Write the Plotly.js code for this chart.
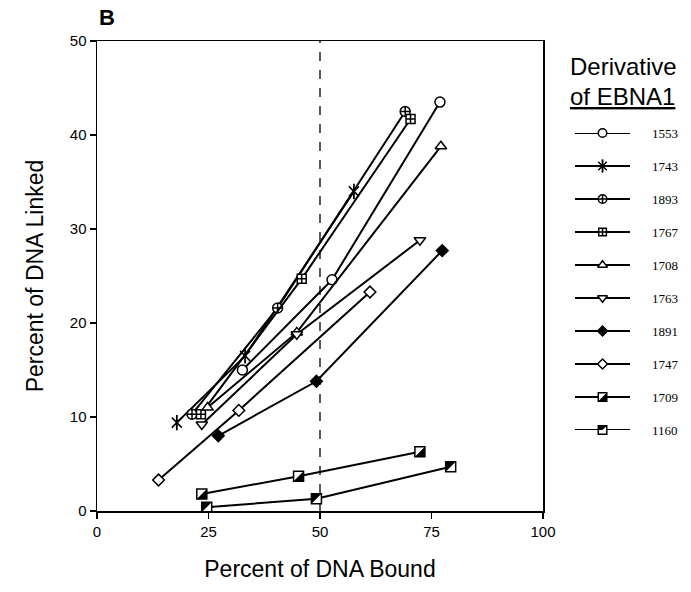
<!DOCTYPE html>
<html>
<head>
<meta charset="utf-8">
<script src="https://cdn.plot.ly/plotly-3.0.1.min.js"></script>
<style>html,body{margin:0;padding:0;background:#fff;}#chart{width:691px;height:592px;}</style>
</head>
<body>
<div id="chart"></div>
<script>
// ---- data ----
var seriesNames = ['1553','1743','1893','1767','1708','1763','1891','1747','1709','1160'];
var x1553 = [32.6, 52.7, 76.9];  var y1553 = [15.0, 24.6, 43.5];
var x1743 = [17.9, 33.2, 57.6];  var y1743 = [9.4, 16.5, 34.0];
var x1893 = [21.3, 40.5, 69.1];  var y1893 = [10.3, 21.6, 42.5];
var x1767 = [23.3, 45.9, 70.3];  var y1767 = [10.3, 24.7, 41.7];
var x1708 = [24.8, 44.8, 77.1];  var y1708 = [11.0, 19.0, 38.8];
var x1763 = [23.5, 44.8, 72.4];  var y1763 = [9.2, 18.8, 28.8];
var x1891 = [27.2, 49.2, 77.4];  var y1891 = [8.0, 13.8, 27.7];
var x1747 = [13.8, 31.8, 61.2];  var y1747 = [3.3, 10.7, 23.3];
var x1709 = [23.5, 45.2, 72.4];  var y1709 = [1.8, 3.7, 6.3];
var x1160 = [24.6, 49.2, 79.3];  var y1160 = [0.4, 1.3, 4.7];
var xTicks = [0, 25, 50, 75, 100];
var yTicks = [0, 10, 20, 30, 40, 50];
var refLineX = 50;

var xs = [x1553,x1743,x1893,x1767,x1708,x1763,x1891,x1747,x1709,x1160];
var ys = [y1553,y1743,y1893,y1767,y1708,y1763,y1891,y1747,y1709,y1160];

// ---- styles ----
var W = '#ffffff', K = '#000000';
var styles = [
  {symbol:'circle', fill:W, size:10},
  {symbol:'x-thin-open', fill:K, size:10, extra:'line-ns-open'},
  {symbol:'circle-cross', fill:W, size:10},
  {symbol:'square-cross', fill:W, size:9},
  {symbol:'triangle-up', fill:W, size:10},
  {symbol:'triangle-down', fill:W, size:10},
  {symbol:'diamond', fill:K, size:9},
  {symbol:'diamond', fill:W, size:9},
  {symbol:'square', fill:W, size:10, half:'lr'},
  {symbol:'square', fill:W, size:10, half:'ul'}
];

var traces = [];
var shapes = [];
function halfPath(kind, r){
  if(kind==='lr') return 'M'+(-r)+','+(-r)+' L'+r+','+(-r)+' L'+r+','+r+' Z';
  return 'M'+(-r)+','+r+' L'+r+','+r+' L'+(-r)+','+(-r)+' Z';
}
function addMarkers(x, y, st, xa, ya, showLine, scale){
  var sz = st.size*scale;
  traces.push({
    x:x, y:y, xaxis:xa, yaxis:ya, type:'scatter',
    mode: showLine ? 'lines+markers' : 'markers',
    line:{color:K, width:2},
    marker:{symbol:st.symbol, size:sz, color:st.fill, line:{color:K, width:1.5}},
    cliponaxis:false, showlegend:false, hoverinfo:'skip'
  });
  if(st.extra){
    traces.push({
      x:x, y:y, xaxis:xa, yaxis:ya, type:'scatter', mode:'markers',
      marker:{symbol:st.extra, size:sz+1, color:K, line:{color:K, width:1.8}},
      cliponaxis:false, showlegend:false, hoverinfo:'skip'
    });
  }
  if(st.half){
    for(var k=0;k<x.length;k++){
      shapes.push({type:'path', xref:xa, yref:ya, xsizemode:'pixel', ysizemode:'pixel',
        xanchor:x[k], yanchor:y[k], path:halfPath(st.half, sz/2),
        fillcolor:K, line:{width:0}, layer:'above'});
    }
  }
}

// main series
for(var i=0;i<seriesNames.length;i++){
  addMarkers(xs[i], ys[i], styles[i], 'x', 'y', true, 1);
}

// legend built on a second pair of axes
var annotations = [];
for(var i=0;i<seriesNames.length;i++){
  traces.push({x:[0,1], y:[i,i], xaxis:'x2', yaxis:'y2', type:'scatter', mode:'lines',
    line:{color:K, width:2}, showlegend:false, hoverinfo:'skip', cliponaxis:false});
  addMarkers([0.5],[i], styles[i], 'x2', 'y2', false, 0.85);
  annotations.push({xref:'paper', yref:'y2', x:0.9325, y:i, xanchor:'left', yanchor:'middle',
    text:seriesNames[i], showarrow:false,
    font:{family:'Liberation Serif, Times New Roman, serif', size:13, color:K}});
}

// reference dashed line
shapes.push({type:'line', xref:'x', yref:'y', x0:refLineX, x1:refLineX, y0:yTicks[0], y1:yTicks[yTicks.length-1],
  line:{color:K, width:1.3, dash:'dash'}, layer:'below'});

annotations.push({xref:'paper', yref:'paper', x:0.0, y:1.049, xanchor:'left', yanchor:'middle',
  text:'<b>B</b>', showarrow:false, font:{family:'Liberation Sans, Arial, sans-serif', size:22, color:K}});
annotations.push({xref:'paper', yref:'paper', x:0.794, y:0.945, xanchor:'left', yanchor:'middle',
  text:'Derivative', showarrow:false, font:{family:'Liberation Sans, Arial, sans-serif', size:24, color:K}});
annotations.push({xref:'paper', yref:'paper', x:0.794, y:0.881, xanchor:'left', yanchor:'middle',
  text:'<u>of EBNA1</u>', showarrow:false, font:{family:'Liberation Sans, Arial, sans-serif', size:24, color:K}});

var tickFont = {family:'Liberation Sans, Arial, sans-serif', size:15, color:K};
var titleFont = {family:'Liberation Sans, Arial, sans-serif', size:23, color:K};

var layout = {
  width:691, height:592,
  margin:{l:97, r:1, t:41, b:81},
  paper_bgcolor:W, plot_bgcolor:W,
  showlegend:false,
  xaxis:{domain:[0, 446/593], range:[0,100], tickmode:'array', tickvals:xTicks, ticktext:xTicks.map(String),
    ticks:'outside', ticklen:6, tickwidth:1.5, tickcolor:K, showline:true, linecolor:K, linewidth:1.5,
    mirror:true, showgrid:false, zeroline:false, tickfont:tickFont,
    title:{text:'Percent of DNA Bound', font:titleFont, standoff:22}},
  yaxis:{domain:[0,1], range:[0,50], tickmode:'array', tickvals:yTicks, ticktext:yTicks.map(String),
    ticks:'outside', ticklen:6, tickwidth:1.5, tickcolor:K, showline:true, linecolor:K, linewidth:1.5,
    mirror:true, showgrid:false, zeroline:false, tickfont:tickFont,
    title:{text:'Percent of DNA Linked', font:titleFont, standoff:20}},
  xaxis2:{domain:[0.806, 0.899], range:[0,1], visible:false, fixedrange:true, anchor:'y2'},
  yaxis2:{domain:[1-(430-41)/470, 1-(133-41)/470], range:[9,0], visible:false, fixedrange:true, anchor:'x2'},
  shapes:shapes,
  annotations:annotations
};

Plotly.newPlot('chart', traces, layout, {displayModeBar:false, staticPlot:true});
</script>
</body>
</html>
